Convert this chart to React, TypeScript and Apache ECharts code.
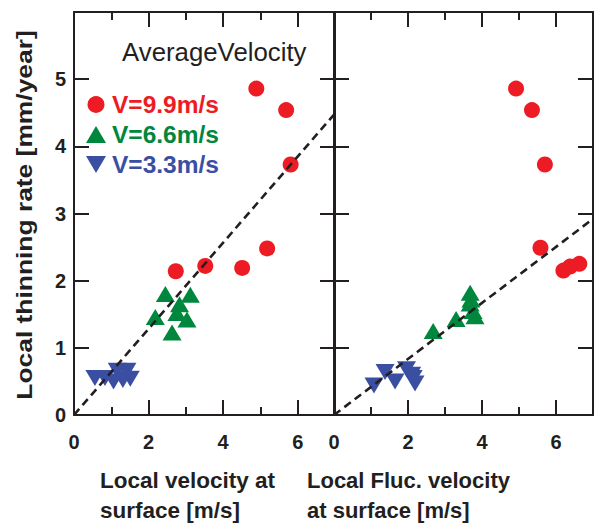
import React, { useEffect, useRef } from "react";
import * as echarts from "echarts";

// ---- data ----
const seriesNames = ["V=9.9m/s", "V=6.6m/s", "V=3.3m/s"];
const seriesColors = ["#ED1C24", "#00873E", "#3B4FA2"];

// left panel: local velocity at surface [m/s] vs local thinning rate [mm/year]
const leftRed = [[4.89, 4.86], [5.69, 4.54], [5.81, 3.73], [2.73, 2.14], [3.52, 2.22], [4.51, 2.19], [5.18, 2.48]];
const leftGreen = [[2.45, 1.8], [3.12, 1.79], [2.18, 1.46], [2.83, 1.65], [2.76, 1.52], [3.03, 1.42], [2.63, 1.23]];
const leftBlue = [[0.56, 0.55], [0.83, 0.55], [1.06, 0.5], [1.16, 0.66], [1.31, 0.52], [1.42, 0.66], [1.51, 0.54]];
const leftFit = [[0, 0], [7, 4.49]];

// right panel: local fluctuating velocity at surface [m/s]
const rightRed = [[4.92, 4.86], [5.35, 4.54], [5.7, 3.73], [5.58, 2.49], [6.2, 2.15], [6.38, 2.21], [6.63, 2.25]];
const rightGreen = [[2.68, 1.25], [3.3, 1.43], [3.68, 1.82], [3.7, 1.72], [3.68, 1.66], [3.76, 1.55], [3.81, 1.47]];
const rightBlue = [[1.08, 0.44], [1.38, 0.64], [1.65, 0.5], [1.96, 0.68], [2.1, 0.6], [2.14, 0.55], [2.19, 0.47]];
const rightFit = [[0, 0], [7, 2.92]];

const xMin = 0, xMax = 7, yMin = 0, yMax = 6;
const xLabelTicks = [0, 2, 4, 6];
const yLabelTicks = [0, 1, 2, 3, 4, 5];

const legendTitle = "AverageVelocity";
const yTitle = "Local thinning rate [mm/year]";
const xTitleLeft = "Local velocity at\nsurface [m/s]";
const xTitleRight = "Local Fluc. velocity\nat surface [m/s]";

const INK = "#231F20";
const FONT = '"Liberation Sans", Arial, Helvetica, sans-serif';
const invTri = "path://M0,0L20,0L10,17Z";

export default function App() {
  const ref = useRef<HTMLDivElement>(null);
  useEffect(() => {
    if (!ref.current) return;
    const chart = echarts.init(ref.current, undefined, { renderer: "svg" });

    const xAxisSet = (gridIndex: number) => [
      {
        gridIndex, type: "value", position: "bottom", min: xMin, max: xMax, interval: 2,
        axisLine: { show: true, onZero: false, lineStyle: { color: INK, width: 2 } },
        axisTick: { show: true, inside: true, length: 15, lineStyle: { color: INK, width: 2 } },
        axisLabel: {
          show: true, margin: 17, color: INK, fontFamily: FONT, fontWeight: "bold", fontSize: 20,
          formatter: (v: number) => (xLabelTicks.includes(v) ? String(v) : ""),
        },
        splitLine: { show: false },
      },
      {
        gridIndex, type: "value", position: "bottom", min: xMin, max: xMax, interval: 1,
        axisLine: { show: false, onZero: false },
        axisTick: { show: true, inside: true, length: 8, lineStyle: { color: INK, width: 2 } },
        axisLabel: { show: false }, splitLine: { show: false },
      },
      {
        gridIndex, type: "value", position: "top", min: xMin, max: xMax, interval: 2,
        axisLine: { show: true, onZero: false, lineStyle: { color: INK, width: 2 } },
        axisTick: { show: true, inside: true, length: 15, lineStyle: { color: INK, width: 2 } },
        axisLabel: { show: false }, splitLine: { show: false },
      },
      {
        gridIndex, type: "value", position: "top", min: xMin, max: xMax, interval: 1,
        axisLine: { show: false, onZero: false },
        axisTick: { show: true, inside: true, length: 8, lineStyle: { color: INK, width: 2 } },
        axisLabel: { show: false }, splitLine: { show: false },
      },
    ];

    const yAxisOne = (gridIndex: number, position: string, labels: boolean) => ({
      gridIndex, type: "value", position, min: yMin, max: yMax, interval: 1,
      axisLine: { show: true, onZero: false, lineStyle: { color: INK, width: 2 } },
      axisTick: { show: true, inside: true, length: 15, lineStyle: { color: INK, width: 2 } },
      axisLabel: {
        show: labels, margin: 8, color: INK, fontFamily: FONT, fontWeight: "bold", fontSize: 20,
        formatter: (v: number) => (yLabelTicks.includes(v) ? String(v) : ""),
      },
      splitLine: { show: false },
    });

    const scatter = (name: string, data: number[][], xi: number, yi: number, k: number) => ({
      name, type: "scatter", xAxisIndex: xi, yAxisIndex: yi, data,
      symbol: k === 0 ? "circle" : k === 1 ? "triangle" : invTri,
      symbolSize: k === 0 ? 16 : [19, 16],
      itemStyle: { color: seriesColors[k], opacity: 1 },
      z: 3,
    });

    const fit = (data: number[][], xi: number, yi: number) => ({
      type: "line", xAxisIndex: xi, yAxisIndex: yi, data, symbol: "none", showSymbol: false,
      silent: true, z: 5,
      lineStyle: { color: INK, width: 2.6, type: [8, 5] },
    });

    const option: any = {
      animation: false,
      backgroundColor: "#ffffff",
      grid: [
        { left: 74, top: 12, width: 261, height: 403 },
        { left: 334, top: 12, width: 259, height: 403 },
      ],
      xAxis: [...xAxisSet(0), ...xAxisSet(1)],
      yAxis: [yAxisOne(0, "left", true), yAxisOne(0, "right", false), yAxisOne(1, "left", false), yAxisOne(1, "right", false)],
      title: {
        text: legendTitle, left: 117, top: 34,
        textStyle: { color: INK, fontFamily: FONT, fontWeight: "normal", fontSize: 25.8 },
      },
      legend: {
        orient: "vertical", left: 81, top: 87, itemWidth: 20, itemHeight: 17, itemGap: 5,
        textStyle: { fontFamily: FONT, fontWeight: "bold", fontSize: 24.5, padding: [0, 0, 0, 1] },
        data: seriesNames.map((n, i) => ({ name: n, textStyle: { color: seriesColors[i] } })),
      },
      graphic: [
        {
          type: "text", x: 24, y: 215, rotation: Math.PI / 2, scaleX: 1.2,
          style: {
            text: yTitle, font: `bold 22px ${FONT}`, fill: INK,
            align: "center", verticalAlign: "middle", textAlign: "center", textVerticalAlign: "middle",
          },
        },
        {
          type: "text", x: 100, y: 495,
          style: {
            text: xTitleLeft, font: `bold 22.5px ${FONT}`, fill: INK, lineHeight: 30,
            align: "left", verticalAlign: "middle", textAlign: "left", textVerticalAlign: "middle",
          },
        },
        {
          type: "text", x: 307, y: 495,
          style: {
            text: xTitleRight, font: `bold 22px ${FONT}`, fill: INK, lineHeight: 30,
            align: "left", verticalAlign: "middle", textAlign: "left", textVerticalAlign: "middle",
          },
        },
      ],
      series: [
        scatter(seriesNames[0], leftRed, 0, 0, 0),
        scatter(seriesNames[1], leftGreen, 0, 0, 1),
        scatter(seriesNames[2], leftBlue, 0, 0, 2),
        scatter(seriesNames[0], rightRed, 4, 2, 0),
        scatter(seriesNames[1], rightGreen, 4, 2, 1),
        scatter(seriesNames[2], rightBlue, 4, 2, 2),
        fit(leftFit, 0, 0),
        fit(rightFit, 4, 2),
      ],
    };
    chart.setOption(option);
    return () => chart.dispose();
  }, []);
  return (
    <div
      ref={ref}
      style={{ position: "fixed", left: 0, top: 0, width: 597, height: 525, background: "#fff" }}
    />
  );
}
